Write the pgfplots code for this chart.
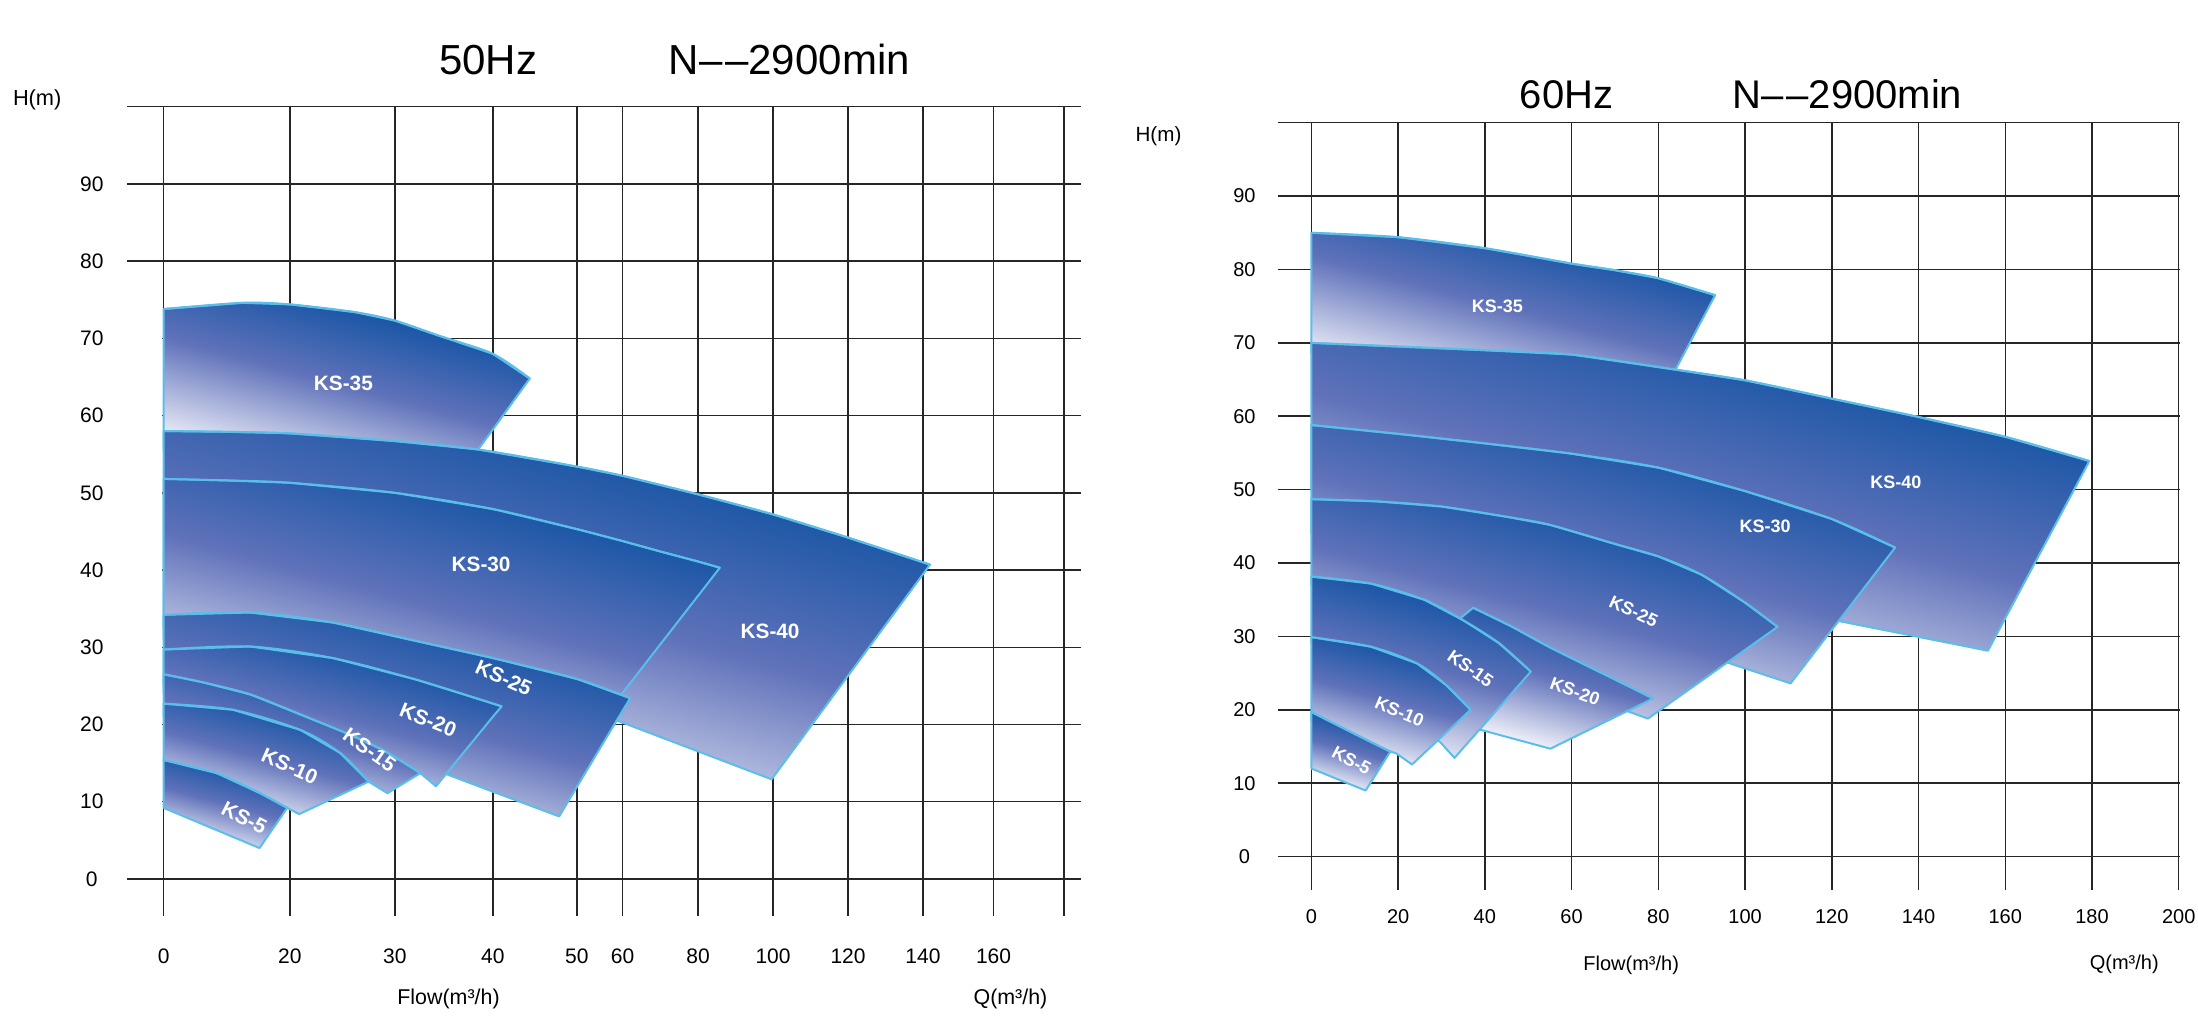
\documentclass[border=0pt]{standalone}
\usepackage{fontspec}
\setmainfont{Liberation Sans}
\usepackage{pgfplots}
\pgfplotsset{compat=1.18}

\definecolor{ksdark}{RGB}{0,76,158}
\definecolor{ksmid}{RGB}{96,114,186}
\definecolor{kslight}{RGB}{250,250,254}
\definecolor{ksedge}{RGB}{90,190,235}

\pgfplotsset{
  chart/.style={
    scale only axis, clip=false, anchor=south west,
    axis line style={draw=none},
    major tick length=0pt,
    tick style={draw=none},
    grid=major,
    major grid style={black!85, line width=0.75pt},
    xticklabel style={anchor=center},
    yticklabel style={anchor=center},
  },
  % filled working range of one pump
  ks/.style={draw=ksedge, line width=1pt, line join=round, mark=none,
    top color=ksdark, bottom color=kslight, middle color=ksmid, shading angle=-15},
  % its H-Q curve at full impeller, drawn again smooth over the fill
  ksline/.style={draw=ksedge, line width=1pt, mark=none, smooth},
}
\tikzset{
  kslab/.style={text=white, inner sep=0pt, font=\bfseries\fontsize{10.4}{12}\selectfont},
  kslabr/.style={text=white, inner sep=0pt, font=\bfseries\fontsize{9}{11}\selectfont},
}
\newcommand{\dd}{\textendash\kern1.4pt\textendash}

\begin{document}
\begin{tikzpicture}
\useasboundingbox (0,0) rectangle (1099pt,517pt);

% titles and axis names
\node[anchor=base west, inner sep=0pt, font=\fontsize{21}{24}\selectfont] at (219.3pt,479.5pt) {50Hz};
\node[anchor=base west, inner sep=0pt, font=\fontsize{21}{24}\selectfont] at (334.2pt,479.5pt) {N\dd2900min};
\node[anchor=base west, inner sep=0pt, font=\fontsize{20}{24}\selectfont] at (759.7pt,462.8pt) {60Hz};
\node[anchor=base west, inner sep=0pt, font=\fontsize{20}{24}\selectfont] at (866.1pt,462.8pt) {N\dd2900min};

\node[anchor=base west, inner sep=0pt, font=\fontsize{10.9}{12}\selectfont] at (6.3pt,464pt) {H(m)};
\node[anchor=base west, inner sep=0pt, font=\fontsize{10.3}{12}\selectfont] at (567.6pt,446.2pt) {H(m)};
\node[anchor=base west, inner sep=0pt, font=\fontsize{10.7}{12}\selectfont] at (198.5pt,15pt) {Flow(m³/h)};
\node[anchor=base west, inner sep=0pt, font=\fontsize{10.7}{12}\selectfont] at (486.6pt,15pt) {Q(m³/h)};
\node[anchor=base west, inner sep=0pt, font=\fontsize{10}{12}\selectfont] at (791.5pt,32pt) {Flow(m³/h)};
\node[anchor=base west, inner sep=0pt, font=\fontsize{10}{12}\selectfont] at (1044.7pt,32.4pt) {Q(m³/h)};

% ---------------- 50 Hz ----------------
\begin{axis}[chart,
  at={(63.5pt,59pt)}, width=477pt, height=404.65pt,
  xmin=-5.8, xmax=184.77, ymin=-4.8, ymax=100,
  % the printed flow scale is not linear: map flow to its place on the sheet
  x coord trafo/.code={\pgfmathparse{(#1<20) ? (#1*6.31) : ((#1<30) ? (126.2+(#1-20)*10.51) :
      ((#1<40) ? (231.3+(#1-30)*9.8) : ((#1<50) ? (329.3+(#1-40)*8.4) :
      ((#1<60) ? (413.3+(#1-50)*4.58) : ((#1<80) ? (459.1+(#1-60)*3.775) :
      ((#1<140) ? (534.6+(#1-80)*3.749) : (759.5+(#1-140)*3.53)))))))}},
  xtick={0,20,30,40,50,60,80,100,120,140,160,180},
  xticklabels={0,20,30,40,50,60,80,100,120,140,160,{}},
  ytick={0,10,...,100},
  yticklabels={0,10,20,30,40,50,60,70,80,90,{}},
  ticklabel style={font=\fontsize{10.5}{12}\selectfont},
  xticklabel style={yshift=-20pt},
  yticklabel style={xshift=-17.6pt},
]
\fill[white] (axis cs:-6.6,5) rectangle (axis cs:-0.25,75);

% KS-35
\addplot[ks] coordinates {(0,55.5) (0,73.8) (12.5,74.6) (20,74.4) (26.2,73.4) (30,72.3) (34.6,70.3) (40,68.0) (44.4,64.8) (40,58.2) (37.0,53.0) (20,54.5) (0,55.5)};
\addplot[ksline] coordinates {(0,73.8) (12.5,74.6) (20,74.4) (26.2,73.4) (30,72.3) (34.6,70.3) (40,68.0) (44.4,64.8)};
% KS-40
\addplot[ks] coordinates {(0,31) (0,58.0) (10,57.9) (20,57.7) (30,56.7) (38.55,55.6) (50,53.4) (60,52.2) (80,49.8) (100,47.2) (120,44.2) (142,40.7) (99.6,12.9) (59.5,20.35) (40,25) (20,29) (0,31)};
\addplot[ksline] coordinates {(0,58.0) (10,57.9) (20,57.7) (30,56.7) (38.55,55.6) (50,53.4) (60,52.2) (80,49.8) (100,47.2) (120,44.2) (142,40.7)};
% KS-30
\addplot[ks] coordinates {(0,32.5) (0,51.8) (10,51.6) (20,51.3) (30,50.0) (40,47.9) (50,45.3) (60,43.75) (70,42.4) (80,41.1) (85.8,40.3) (60,24.1) (52.2,18.2) (40,22.5) (20,28) (0,32.5)};
\addplot[ksline] coordinates {(0,51.8) (10,51.6) (20,51.3) (30,50.0) (40,47.9) (50,45.3) (60,43.75) (70,42.4) (80,41.1) (85.8,40.3)};
% KS-25
\addplot[ks] coordinates {(0,24) (0,34.2) (13.7,34.5) (24.1,33.2) (32.2,30.8) (40,28.6) (50,25.9) (62,23.4) (60,21.8) (50,11.9) (47.9,8.1) (40,11.3) (35.4,13.5) (30,16) (20,20) (0,24)};
\addplot[ksline] coordinates {(0,34.2) (13.7,34.5) (24.1,33.2) (32.2,30.8) (40,28.6) (50,25.9) (62,23.4)};
% KS-20
\addplot[ks] coordinates {(0,25) (0,29.7) (13.7,30.1) (24.1,28.6) (32.2,25.8) (41.05,22.35) (40,21.0) (34.2,12.0) (32.6,13.7) (25,17) (0,25)};
\addplot[ksline] coordinates {(0,29.7) (13.7,30.1) (24.1,28.6) (32.2,25.8) (41.05,22.35)};
% KS-15
\addplot[ks] coordinates {(0,21) (0,26.5) (6,25.5) (13.7,23.9) (21,21.3) (25.7,18.7) (29,16.6) (32.6,13.7) (30,11.7) (29.3,11.1) (27.5,12.6) (20,16) (0,21)};
\addplot[ksline] coordinates {(0,26.5) (6,25.5) (13.7,23.9) (21,21.3) (25.7,18.7) (29,16.6) (32.6,13.7)};
% KS-10
\addplot[ks] coordinates {(0,15.2) (0,22.7) (11,21.9) (21,19.3) (24.8,16.3) (27.5,12.6) (20.9,8.4) (19.6,9.2) (10,12.5) (0,15.2)};
\addplot[ksline] coordinates {(0,22.7) (11,21.9) (21,19.3) (24.8,16.3) (27.5,12.6)};
% KS-5
\addplot[ks] coordinates {(0,9.2) (0,15.4) (8.4,13.7) (15.3,11.1) (19.6,9.2) (15.2,4.0) (0,9.2)};
\addplot[ksline] coordinates {(0,15.4) (8.4,13.7) (15.3,11.1) (19.6,9.2)};

\node[kslab] at (axis cs:25.1,64.2) {KS-35};
\node[kslab] at (axis cs:99.2,32.1) {KS-40};
\node[kslab] at (axis cs:38.8,40.7) {KS-30};
\node[kslab, rotate=-24] at (axis cs:41.3,26.0) {KS-25};
\node[kslab, rotate=-22] at (axis cs:33.4,20.6) {KS-20};
\node[kslab, rotate=-35] at (axis cs:27.6,16.7) {KS-15};
\node[kslab, rotate=-24] at (axis cs:20,14.6) {KS-10};
\node[kslab, rotate=-27] at (axis cs:12.8,7.9) {KS-5};
\end{axis}

% ---------------- 60 Hz ----------------
\begin{axis}[chart,
  at={(638.8pt,72.2pt)}, width=451.2pt, height=383.45pt,
  xmin=-7.79, xmax=200.3, ymin=-4.5, ymax=100,
  xtick={0,20,...,200},
  xticklabels={0,20,40,60,80,100,120,140,160,180,200},
  ytick={0,10,...,100},
  yticklabels={0,10,20,30,40,50,60,70,80,90,{}},
  ticklabel style={font=\fontsize{10}{12}\selectfont},
  xticklabel style={yshift=-13.3pt},
  yticklabel style={xshift=-16.6pt},
]
% KS-35
\addplot[ks] coordinates {(0,68.5) (0,85.0) (20,84.4) (40,82.9) (60,80.8) (70,79.9) (80,78.8) (93.1,76.5) (84.1,66.5) (81.9,64) (40,67) (0,68.5)};
\addplot[ksline] coordinates {(0,85.0) (20,84.4) (40,82.9) (60,80.8) (70,79.9) (80,78.8) (93.1,76.5)};
% KS-40
\addplot[ks] coordinates {(0,50) (0,70.0) (20,69.5) (40,69.0) (60,68.4) (80,66.7) (100,64.9) (120,62.4) (140,59.9) (160,57.2) (179.4,53.9) (156,28.05) (121.6,32.1) (100,36) (60,42) (0,50)};
\addplot[ksline] coordinates {(0,70.0) (20,69.5) (40,69.0) (60,68.4) (80,66.7) (100,64.9) (120,62.4) (140,59.9) (160,57.2) (179.4,53.9)};
% KS-30
\addplot[ks] coordinates {(0,44) (0,58.8) (20,57.6) (40,56.3) (60,54.9) (80,53.0) (100,49.8) (120,46.0) (134.6,42.1) (110.5,23.6) (97.1,26.2) (80,30) (40,38) (0,44)};
\addplot[ksline] coordinates {(0,58.8) (20,57.6) (40,56.3) (60,54.9) (80,53.0) (100,49.8) (120,46.0) (134.6,42.1)};
% KS-25
\addplot[ks] coordinates {(0,37) (0,48.7) (15,48.4) (30,47.7) (45,46.3) (55,45.2) (70,42.6) (80,40.9) (90,38.4) (100,34.6) (107.5,31.3) (77.6,18.8) (72,20) (50,25) (20,32) (0,37)};
\addplot[ksline] coordinates {(0,48.7) (15,48.4) (30,47.7) (45,46.3) (55,45.2) (70,42.6) (80,40.9) (90,38.4) (100,34.6) (107.5,31.3)};
% KS-20
\addplot[ks] coordinates {(34.6,18.0) (34.6,32.6) (37.3,33.9) (46,31.4) (54.7,28.6) (67,25.0) (78.8,21.55) (55.1,14.7) (39.5,17.2) (34.6,18.0)};
\addplot[ksline] coordinates {(37.3,33.9) (46,31.4) (54.7,28.6) (67,25.0) (78.8,21.55)};
% KS-15
\addplot[ks] coordinates {(0,29) (0,38.15) (13.7,37.2) (26,35.0) (35,32.2) (43.2,29.1) (50.6,25.2) (33,13.45) (29.7,15.6) (15,22) (0,29)};
\addplot[ksline] coordinates {(0,38.15) (13.7,37.2) (26,35.0) (35,32.2) (43.2,29.1) (50.6,25.2)};
% KS-10
\addplot[ks] coordinates {(0,18.5) (0,29.9) (13.7,28.6) (24.4,26.3) (31,23.4) (36.7,20.0) (23.2,12.55) (19.6,14.05) (10,16) (0,18.5)};
\addplot[ksline] coordinates {(0,29.9) (13.7,28.6) (24.4,26.3) (31,23.4) (36.7,20.0)};
% KS-5
\addplot[ks] coordinates {(0,12.0) (0,19.7) (9.7,16.8) (18.2,14.3) (12.5,9.0) (0,12.0)};
\addplot[ksline] coordinates {(0,19.7) (9.7,16.8) (18.2,14.3)};

\node[kslabr] at (axis cs:42.9,75.0) {KS-35};
\node[kslabr] at (axis cs:134.8,51.0) {KS-40};
\node[kslabr] at (axis cs:104.6,45.0) {KS-30};
\node[kslabr, rotate=-25] at (axis cs:74.3,33.4) {KS-25};
\node[kslabr, rotate=-20] at (axis cs:60.8,22.5) {KS-20};
\node[kslabr, rotate=-35] at (axis cs:36.7,25.6) {KS-15};
\node[kslabr, rotate=-23] at (axis cs:20.3,19.7) {KS-10};
\node[kslabr, rotate=-28] at (axis cs:9.25,13.1) {KS-5};
\end{axis}
\end{tikzpicture}
\end{document}
